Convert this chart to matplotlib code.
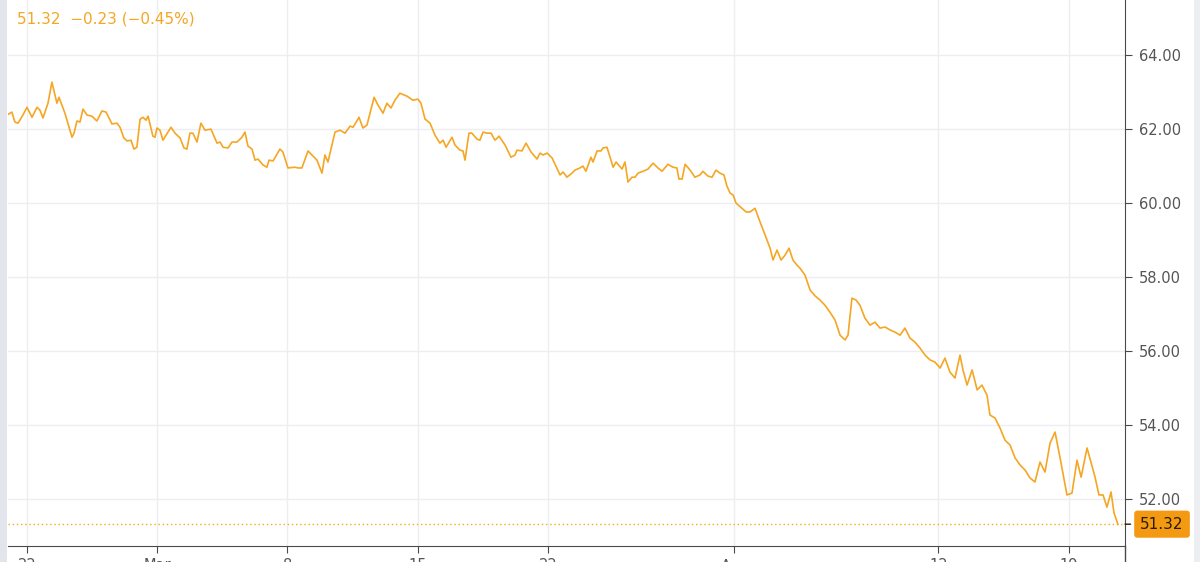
import matplotlib
matplotlib.use('Agg')
import matplotlib.pyplot as plt
from matplotlib.patches import Rectangle
from matplotlib.lines import Line2D

# time in days from the first labelled date, price
days = [-1.45, -1.08, -0.81, -0.65, -0.48, -0.22, 0.00, 0.27, 0.54, 0.70,
        0.86, 1.13, 1.34, 1.61, 1.72, 2.04, 2.42, 2.53, 2.69, 2.85,
        3.01, 3.23, 3.49, 3.76, 4.03, 4.25, 4.57, 4.84, 5.00, 5.21,
        5.38, 5.59, 5.75, 5.91, 6.08, 6.24, 6.40, 6.51, 6.77, 6.88,
        6.99, 7.15, 7.31, 7.74, 7.96, 8.23, 8.44, 8.60, 8.76, 8.92,
        9.14, 9.35, 9.57, 9.89, 10.22, 10.38, 10.54, 10.81, 11.02, 11.29,
        11.56, 11.72, 11.88, 12.10, 12.26, 12.42, 12.69, 12.90, 13.01, 13.23,
        13.60, 13.76, 14.03, 14.41, 14.57, 14.78, 15.11, 15.59, 15.86, 16.02,
        16.18, 16.56, 16.83, 17.10, 17.37, 17.53, 17.85, 18.06, 18.28, 18.44,
        18.66, 18.87, 19.14, 19.35, 19.57, 19.78, 20.05, 20.43, 20.75, 21.02,
        21.18, 21.40, 21.67, 21.93, 22.20, 22.37, 22.53, 22.85, 23.01, 23.28,
        23.44, 23.55, 23.76, 23.92, 24.19, 24.35, 24.52, 24.73, 24.95, 25.16,
        25.38, 25.70, 26.02, 26.24, 26.34, 26.61, 26.83, 27.10, 27.42, 27.58,
        27.74, 27.96, 28.23, 28.66, 28.82, 29.03, 29.30, 29.46, 29.73, 29.89,
        30.05, 30.32, 30.43, 30.65, 30.86, 30.97, 31.18, 31.51, 31.67, 31.99,
        32.15, 32.31, 32.53, 32.69, 32.85, 33.12, 33.39, 33.66, 33.92, 34.14,
        34.46, 34.73, 34.94, 35.05, 35.22, 35.38, 35.65, 35.91, 36.18, 36.34,
        36.61, 36.83, 37.04, 37.26, 37.47, 37.63, 37.80, 37.96, 38.12, 38.44,
        38.66, 38.87, 39.14, 39.41, 39.68, 39.95, 40.11, 40.32, 40.54, 40.75,
        40.97, 41.18, 41.40, 41.56, 41.83, 42.10, 42.37, 42.63, 42.90, 43.17,
        43.44, 43.71, 43.98, 44.14, 44.35, 44.57, 44.78, 45.05, 45.32, 45.59,
        45.86, 46.13, 46.40, 46.67, 46.94, 47.20, 47.47, 47.74, 48.01, 48.28,
        48.55, 48.82, 49.09, 49.35, 49.62, 49.89, 50.16, 50.32, 50.54, 50.81,
        51.08, 51.34, 51.61, 51.77, 52.04, 52.31, 52.58, 52.85, 53.12, 53.39,
        53.66, 53.92, 54.19, 54.46, 54.73, 55.00, 55.27, 55.54, 55.91, 56.18,
        56.45, 56.67, 56.99, 57.42, 57.63, 57.85, 58.06, 58.28, 58.44, 58.65]

price = [62.43, 62.38, 62.46, 62.19, 62.16, 62.38, 62.59, 62.32, 62.59, 62.51,
         62.30, 62.70, 63.27, 62.70, 62.86, 62.43, 61.78, 61.89, 62.22, 62.19,
         62.54, 62.38, 62.35, 62.22, 62.49, 62.46, 62.14, 62.16, 62.05, 61.76,
         61.68, 61.70, 61.46, 61.51, 62.27, 62.32, 62.24, 62.35, 61.81, 61.78,
         62.03, 61.97, 61.70, 62.05, 61.89, 61.76, 61.49, 61.46, 61.89, 61.89,
         61.65, 62.16, 61.97, 62.00, 61.62, 61.65, 61.51, 61.49, 61.65, 61.65,
         61.78, 61.92, 61.54, 61.46, 61.16, 61.19, 61.03, 60.97, 61.16, 61.14,
         61.46, 61.38, 60.95, 60.97, 60.95, 60.95, 61.41, 61.16, 60.81, 61.30,
         61.11, 61.92, 61.97, 61.89, 62.08, 62.05, 62.32, 62.03, 62.11, 62.43,
         62.86, 62.65, 62.43, 62.70, 62.57, 62.78, 62.97, 62.89, 62.78, 62.81,
         62.70, 62.27, 62.16, 61.84, 61.62, 61.70, 61.51, 61.78, 61.57, 61.43,
         61.41, 61.16, 61.89, 61.89, 61.73, 61.70, 61.92, 61.89, 61.89, 61.70,
         61.81, 61.57, 61.24, 61.30, 61.43, 61.41, 61.62, 61.38, 61.19, 61.35,
         61.30, 61.35, 61.22, 60.76, 60.84, 60.70, 60.81, 60.89, 60.95, 61.00,
         60.86, 61.24, 61.11, 61.41, 61.41, 61.49, 61.51, 60.97, 61.11, 60.92,
         61.11, 60.57, 60.70, 60.70, 60.81, 60.86, 60.92, 61.08, 60.95, 60.86,
         61.05, 60.97, 60.95, 60.65, 60.65, 61.05, 60.89, 60.70, 60.76, 60.86,
         60.73, 60.70, 60.89, 60.81, 60.76, 60.46, 60.27, 60.22, 60.00, 59.86,
         59.76, 59.76, 59.86, 59.49, 59.14, 58.78, 58.46, 58.73, 58.46, 58.59,
         58.78, 58.46, 58.32, 58.24, 58.05, 57.65, 57.49, 57.38, 57.24, 57.05,
         56.84, 56.43, 56.30, 56.43, 57.43, 57.38, 57.24, 56.89, 56.70, 56.78,
         56.62, 56.65, 56.57, 56.51, 56.43, 56.62, 56.35, 56.24, 56.08, 55.89,
         55.76, 55.70, 55.54, 55.81, 55.43, 55.27, 55.89, 55.49, 55.08, 55.49,
         54.95, 55.08, 54.81, 54.27, 54.19, 53.92, 53.59, 53.46, 53.11, 52.92,
         52.78, 52.57, 52.46, 53.00, 52.73, 53.51, 53.81, 53.11, 52.11, 52.16,
         53.05, 52.59, 53.38, 52.59, 52.11, 52.11, 51.78, 52.19, 51.62, 51.32]

tick_days = [0, 7, 14, 21, 28, 38, 49, 56]
tick_labels = ['22', 'Mar', '8', '15', '22', 'Apr', '12', '19']
y_ticks = [52, 54, 56, 58, 60, 62, 64]

last = price[-1]
change = -0.23
change_pct = -0.45

orange = '#f5a623'
tag_c = '#f39a12'
grid_c = '#eceef2'
axis_c = '#4a4a4a'
text_c = '#555555'

fig = plt.figure(figsize=(12, 5.62), dpi=100)
ax = fig.add_axes([8/1200, 16/562, 1117/1200, 546/562])

ax.plot(days, price, color=orange, lw=1.2)
ax.axhline(last, color=orange, lw=1, ls=(0, (1, 2)))

ax.set_xlim(-1.02, 59.03)
ax.set_ylim(50.73, 65.49)

ax.set_xticks(tick_days)
ax.set_xticklabels(tick_labels)
ax.set_yticks(y_ticks)
ax.set_yticklabels(['%.2f' % v for v in y_ticks])
ax.yaxis.tick_right()
ax.grid(True, color=grid_c, lw=1)
ax.set_axisbelow(True)

for s in ['top', 'left']:
    ax.spines[s].set_visible(False)
ax.spines['bottom'].set_color(axis_c)
ax.spines['right'].set_color(axis_c)
ax.tick_params(axis='y', colors=axis_c, labelcolor=text_c, length=5, pad=5, labelsize=10.5)
ax.tick_params(axis='x', colors=axis_c, labelcolor=text_c, length=5, pad=4, labelsize=10.5)

# last price tag on the scale
ax.annotate('%.2f' % last, xy=(1, last), xycoords=('axes fraction', 'data'),
            xytext=(11, 0), textcoords='offset points', va='center', ha='left',
            fontsize=11, color='#2b1d00',
            bbox=dict(boxstyle='round,pad=0.35,rounding_size=0.15', fc=tag_c, ec=tag_c),
            annotation_clip=False)
ax.annotate('', xy=(1, last), xycoords=('axes fraction', 'data'),
            xytext=(4, 0), textcoords='offset points',
            arrowprops=dict(arrowstyle='-', color='#2b1d00', lw=1,
                            shrinkA=0, shrinkB=0),
            annotation_clip=False)

# header
fig.text(17/1200, 1 - 19/562, '%.2f  %s0.23 (%s0.45%%)' % (last, '\u2212', '\u2212'),
         color=orange, fontsize=11, va='center', ha='left')

# borders of the chart frame
fig.patches.append(Rectangle((0, 0), 7/1200, 1, transform=fig.transFigure,
                             fc='#e2e5ec', ec='none'))
fig.patches.append(Rectangle((1194/1200, 0), 6/1200, 1, transform=fig.transFigure,
                             fc='#eceef2', ec='none'))
fig.lines.append(Line2D([1125/1200, 1125/1200], [0, 16/562], transform=fig.transFigure,
                        color=axis_c, lw=1))

fig.savefig('out.png', dpi=100)
